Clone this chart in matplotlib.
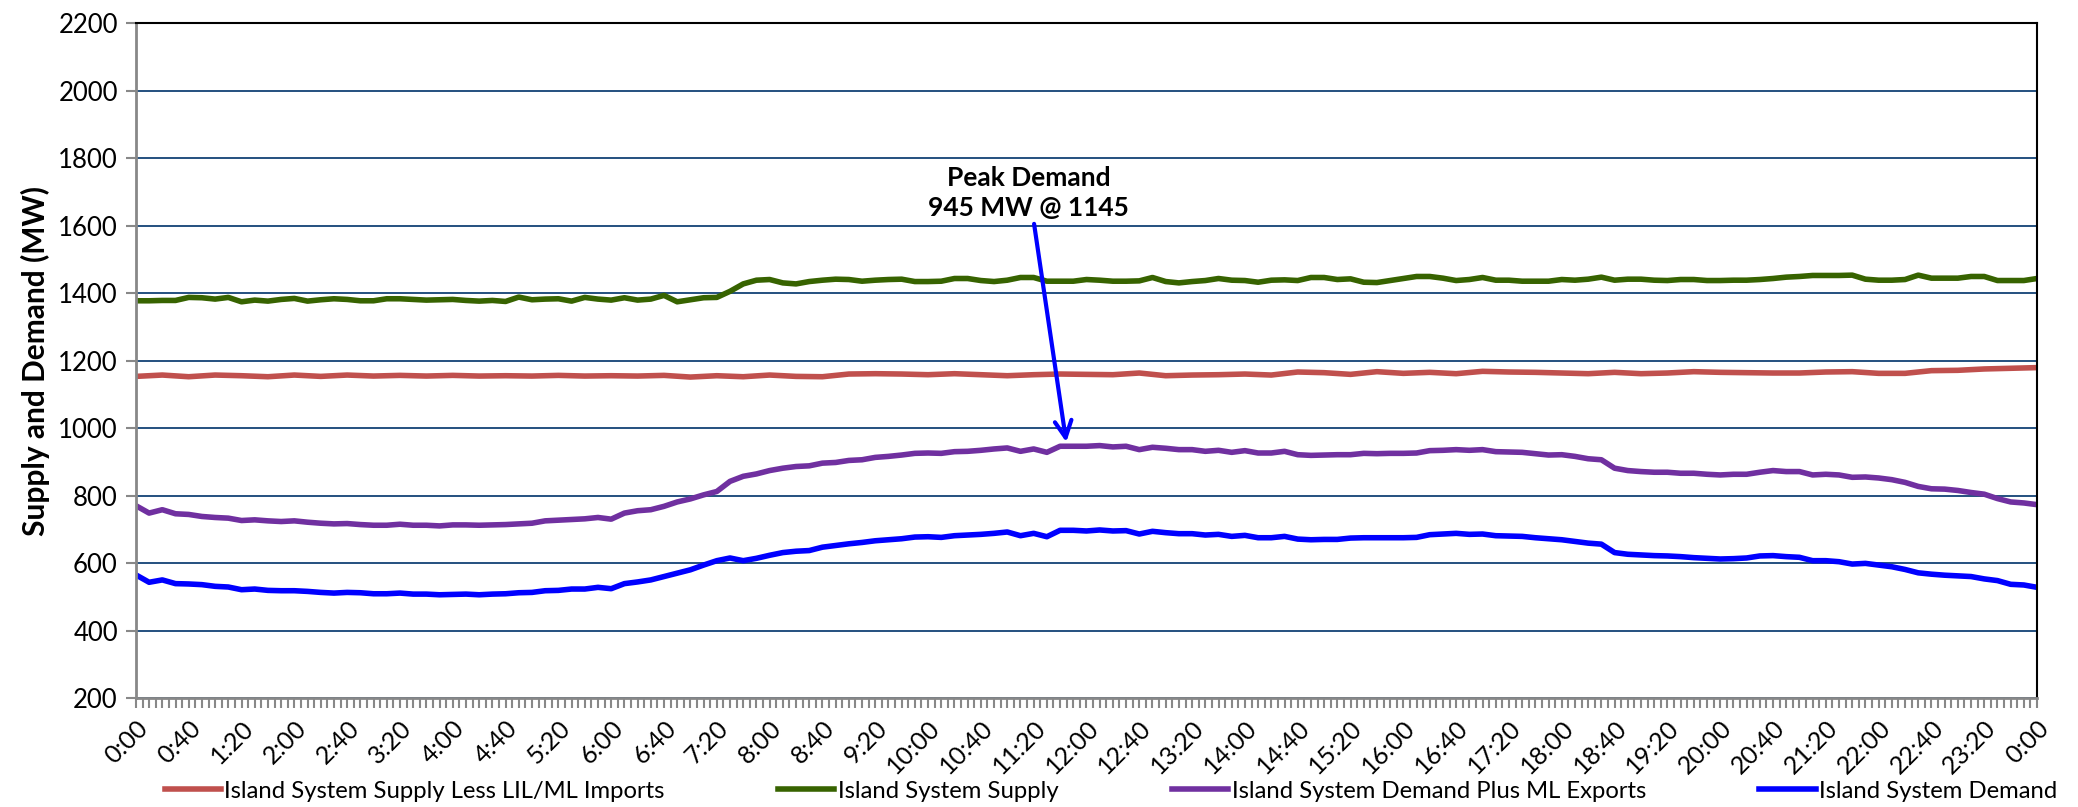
import matplotlib.pyplot as plt
from matplotlib.ticker import MultipleLocator

plt.rcParams['font.family'] = ['Lato', 'DejaVu Sans']

# minutes after midnight
t10 = list(range(0, 1441, 10))
t20 = list(range(0, 1441, 20))

supply_less_imports = [
    1153, 1157, 1152, 1157, 1155, 1152, 1157, 1153, 1157, 1154, 1156, 1154,
    1156, 1154, 1155, 1154, 1156, 1154, 1155, 1154, 1156, 1151, 1155, 1152,
    1157, 1153, 1152, 1160, 1161, 1160, 1158, 1161, 1158, 1155, 1158, 1160,
    1159, 1158, 1163, 1155, 1157, 1158, 1160, 1157, 1166, 1164, 1159, 1167,
    1162, 1165, 1161, 1168, 1166, 1165, 1163, 1161, 1165, 1161, 1163, 1167,
    1165, 1164, 1163, 1163, 1166, 1167, 1162, 1162, 1170, 1171, 1175, 1177,
    1179]

supply = [
    1377, 1377, 1378, 1378, 1387, 1386, 1382, 1387, 1374, 1379, 1376, 1381,
    1384, 1376, 1380, 1383, 1381, 1377, 1377, 1383, 1383, 1381, 1379, 1380,
    1381, 1378, 1376, 1378, 1375, 1388, 1380, 1382, 1383, 1376, 1387, 1382,
    1379, 1386, 1379, 1382, 1393, 1374, 1380, 1386, 1387, 1405, 1427, 1438,
    1440, 1430, 1427, 1434, 1438, 1441, 1440, 1435, 1438, 1440, 1441, 1434,
    1434, 1435, 1443, 1443, 1437, 1434, 1438, 1446, 1446, 1435, 1435, 1435,
    1440, 1438, 1435, 1435, 1436, 1446, 1434, 1430, 1434, 1437, 1443, 1438,
    1437, 1432, 1438, 1439, 1437, 1446, 1446, 1440, 1442, 1432, 1431, 1437,
    1443, 1449, 1449, 1444, 1437, 1440, 1446, 1438, 1438, 1435, 1435, 1435,
    1440, 1438, 1441, 1447, 1438, 1441, 1441, 1438, 1437, 1440, 1440, 1437,
    1437, 1438, 1438, 1440, 1443, 1447, 1449, 1452, 1452, 1452, 1453, 1441,
    1438, 1438, 1440, 1453, 1444, 1444, 1444, 1449, 1449, 1437, 1437, 1437,
    1443]

demand_plus_exports = [
    770, 748, 758, 746, 744, 738, 735, 733, 726, 728, 725, 723,
    725, 721, 718, 716, 717, 714, 712, 712, 715, 712, 712, 710,
    713, 713, 712, 713, 714, 716, 718, 725, 727, 729, 731, 735,
    730, 748, 755, 758, 768, 781, 790, 802, 812, 842, 857, 864,
    874, 881, 886, 888, 896, 898, 904, 906, 913, 916, 920, 925,
    926, 925, 930, 931, 934, 938, 941, 931, 938, 928, 946, 946,
    946, 948, 944, 946, 936, 943, 940, 936, 936, 931, 934, 928,
    933, 926, 926, 931, 921, 919, 920, 921, 921, 925, 924, 925,
    925, 926, 933, 934, 936, 934, 936, 930, 929, 928, 924, 920,
    921, 916, 909, 906, 881, 874, 871, 869, 869, 866, 866, 863,
    861, 863, 863, 869, 874, 871, 871, 861, 863, 861, 854, 855,
    852, 847, 839, 827, 820, 819, 815, 809, 804, 791, 781, 778,
    773]

demand = [
    565, 543, 550, 539, 538, 536, 531, 529, 521, 523, 519, 518,
    518, 516, 513, 511, 513, 512, 509, 509, 511, 508, 508, 506,
    507, 508, 506, 508, 509, 512, 513, 518, 519, 523, 523, 528,
    524, 539, 544, 550, 560, 570, 580, 594, 607, 615, 607, 614,
    623, 631, 635, 637, 647, 652, 657, 661, 666, 669, 672, 677,
    678, 676, 681, 683, 685, 688, 692, 681, 688, 678, 697, 697,
    695, 698, 695, 696, 686, 694, 690, 687, 687, 683, 685, 679,
    682, 675, 675, 679, 671, 669, 670, 670, 674, 675, 675, 675,
    675, 676, 684, 686, 688, 685, 686, 681, 680, 679, 675, 672,
    669, 664, 659, 656, 631, 626, 624, 622, 621, 619, 616, 614,
    612, 613, 615, 621, 622, 619, 617, 607, 607, 604, 597, 599,
    594, 589, 581, 571, 567, 564, 562, 560, 553, 548, 537, 535,
    528]

peak_time = 705  # 11:45
peak_value = 945

fig = plt.figure(figsize=(20.78, 8.07), dpi=100)
ax = fig.add_axes([0.0654, 0.135, 0.9149, 0.8365])

ax.plot(t20, supply_less_imports, color='#C0504D', lw=4,
        label='Island System Supply Less LIL/ML Imports')
ax.plot(t10, supply, color='#376300', lw=4, label='Island System Supply')
ax.plot(t10, demand_plus_exports, color='#7030A0', lw=4,
        label='Island System Demand Plus ML Exports')
ax.plot(t10, demand, color='#0000FF', lw=4, label='Island System Demand')

ax.set_xlim(0, 1440)
ax.set_ylim(200, 2200)
ax.yaxis.set_major_locator(MultipleLocator(200))
ax.grid(axis='y', color='#24507F', lw=1.4)
ax.set_axisbelow(True)

ticks = list(range(0, 1441, 40))
ax.set_xticks(ticks)
ax.set_xticklabels(['%d:%02d' % ((m // 60) % 24, m % 60) for m in ticks],
                   rotation=45, ha='right', va='top', rotation_mode='anchor')
ax.xaxis.set_minor_locator(MultipleLocator(5))
ax.tick_params(axis='x', which='both', length=7, width=1.5, color='#888888',
               labelsize=18, pad=6)
ax.tick_params(axis='y', length=7, width=1.5, color='#888888', labelsize=18.5,
               pad=6)

for s in ['left', 'bottom']:
    ax.spines[s].set_color('#888888')
    ax.spines[s].set_linewidth(2)
for s in ['top', 'right']:
    ax.spines[s].set_color('black')
    ax.spines[s].set_linewidth(1.5)

ax.set_ylabel('Supply and Demand (MW)', fontsize=21.5, fontweight='bold',
              labelpad=6)

ax.annotate('', xy=(peak_time, peak_value + 5), xytext=(680, 1613),
            arrowprops=dict(arrowstyle='->', color='blue', lw=3,
                            mutation_scale=30))
ax.text(676, 1695, 'Peak Demand\n945 MW @ 1145', ha='center', va='center',
        fontsize=19, fontweight='bold', linespacing=1.3)

fig.legend(loc='center', bbox_to_anchor=(1111 / 2078, 1 - 791 / 807), ncol=4,
           frameon=False, fontsize=17.2, handlelength=2.35, handletextpad=0.15,
           columnspacing=4.75)

plt.savefig('out.png', dpi=100)
